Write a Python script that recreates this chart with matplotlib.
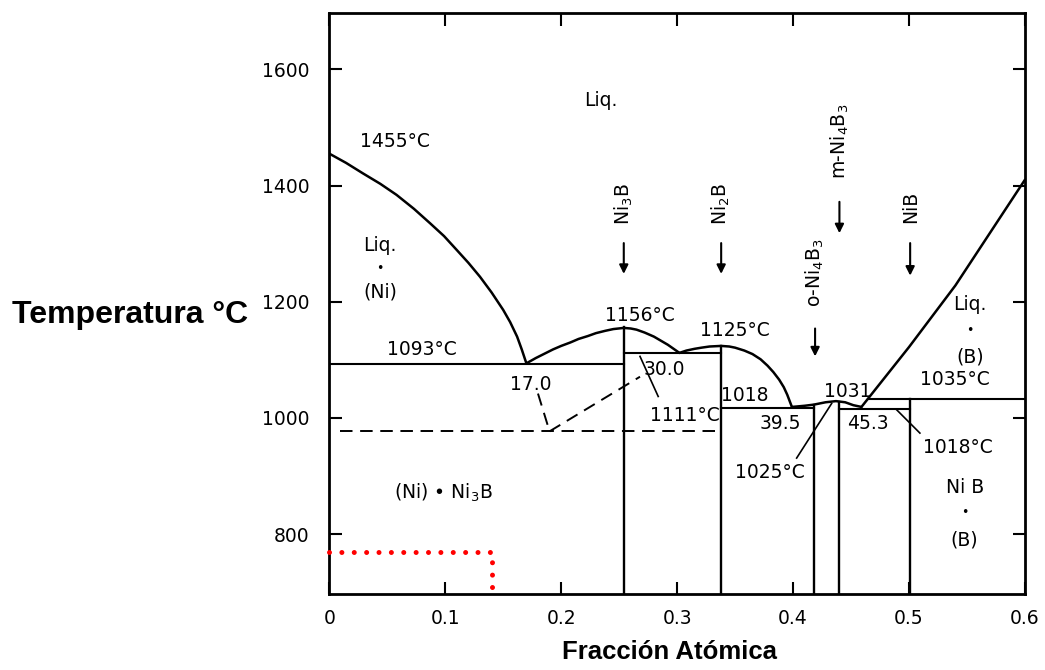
import matplotlib
matplotlib.use("Agg")
import matplotlib.pyplot as plt

plt.rcParams['font.family'] = ['DejaVu Sans']
plt.rcParams['lines.scale_dashes'] = False

# ---------------- data ----------------
# Ni-rich liquidus (x = atomic fraction B, T in deg C)
liq_ni_x = [0.000, 0.0145, 0.029, 0.044, 0.058, 0.073, 0.087, 0.099, 0.110,
            0.120, 0.130, 0.140, 0.150, 0.156, 0.162, 0.166, 0.170]
liq_ni_t = [1455, 1439, 1421, 1403, 1384, 1360, 1335, 1313, 1289,
            1267, 1243, 1216, 1186, 1165, 1140, 1118, 1094]

# Ni3B liquidus dome
ni3b_x = [0.170, 0.178, 0.185, 0.193, 0.200, 0.208, 0.215, 0.223, 0.230, 0.238,
          0.245, 0.254, 0.260, 0.265, 0.272, 0.280, 0.286, 0.292, 0.297, 0.302]
ni3b_t = [1094, 1103, 1110, 1118, 1124, 1130, 1136, 1141, 1146, 1150,
          1153, 1155, 1154, 1152, 1147, 1140, 1133, 1126, 1119, 1112]

# Ni2B liquidus dome
ni2b_x = [0.302, 0.308, 0.315, 0.321, 0.328, 0.338, 0.345, 0.350, 0.358, 0.365,
          0.372, 0.378, 0.383, 0.388, 0.392, 0.395, 0.399]
ni2b_t = [1112, 1116, 1119, 1121, 1123, 1124, 1123, 1121, 1116, 1110,
          1101, 1090, 1079, 1066, 1053, 1040, 1019]

# Ni4B3 small dome
ni4b3_x = [0.399, 0.410, 0.418, 0.428, 0.437, 0.445, 0.452, 0.459]
ni4b3_t = [1019, 1021, 1023, 1027, 1029, 1027, 1022, 1019]

# B-rich liquidus
liq_b_x = [0.459, 0.500, 0.540, 0.600]
liq_b_t = [1019, 1122, 1228, 1410]

# invariant (horizontal) lines: (x_start, x_end, T)
iso_x0 = [0.000, 0.254, 0.338, 0.440, 0.465]
iso_x1 = [0.254, 0.338, 0.418, 0.501, 0.600]
iso_t = [1093, 1111, 1018, 1016, 1033]

# compound lines: (x, T_top)
comp_x = [0.254, 0.338, 0.418, 0.440, 0.501]
comp_top = [1156, 1124, 1023, 1027, 1033]

# metastable (dashed) lines
dash_h_x = [0.009, 0.336]
dash_h_t = [977, 977]
dash_a_x = [0.180, 0.190]
dash_a_t = [1042, 977]
dash_b_x = [0.190, 0.268]
dash_b_t = [977, 1071]

# leader lines for labels
lead_1111_x = [0.268, 0.2837]
lead_1111_t = [1106, 1037]
lead_1025_x = [0.4031, 0.4333]
lead_1025_t = [931, 1025]
lead_1018_x = [0.4894, 0.5094]
lead_1018_t = [1014, 974]

# red dotted marker
red_x = [0.0, 0.1406, 0.1406]
red_t = [770, 770, 697]

# compound labels with arrows: label, x, text-centre T, arrow start T, arrow end T
phase_labels = ["Ni$_3$B", "Ni$_2$B", "o-Ni$_4$B$_3$", "m-Ni$_4$B$_3$", "NiB"]
phase_x = [0.254, 0.338, 0.419, 0.440, 0.501]
phase_txt_t = [1368, 1368, 1250, 1476, 1363]
phase_arr_t0 = [1301, 1301, 1154, 1372, 1301]
phase_arr_t1 = [1248, 1248, 1106, 1318, 1245]

# region / point labels
note_text = ["Liq.", "1455°C", "Liq.", "•", "(Ni)", "1093°C", "17.0", "1156°C",
             "1125°C", "30.0", "1111°C", "1018", "39.5", "1031", "45.3",
             "1035°C", "1018°C", "1025°C", "Liq.", "•", "(B)", "Ni B", "•", "(B)",
             "(Ni) • Ni$_3$B"]
note_x = [0.234, 0.057, 0.044, 0.044, 0.044, 0.080, 0.174, 0.268,
          0.350, 0.289, 0.307, 0.3585, 0.389, 0.4475, 0.4645,
          0.540, 0.542, 0.380, 0.5525, 0.5525, 0.5525, 0.548, 0.548, 0.548,
          0.098]
note_t = [1547, 1476, 1297, 1258, 1217, 1117, 1058, 1177,
          1150, 1084, 1005, 1038, 991, 1046, 991,
          1067, 950, 906, 1195, 1150, 1105, 880, 837, 790,
          871]

xticks = [0, 0.1, 0.2, 0.3, 0.4, 0.5, 0.6]
xtick_labels = ["0", "0.1", "0.2", "0.3", "0.4", "0.5", "0.6"]
yticks = [800, 1000, 1200, 1400, 1600]
ytick_labels = ["800", "1000", "1200", "1400", "1600"]

# ---------------- figure ----------------
fig = plt.figure(figsize=(10.45, 6.70), dpi=100)
ax = fig.add_axes([0.3151, 0.1134, 0.6657, 0.8672])
ax.set_xlim(0, 0.6)
ax.set_ylim(697, 1697)

lw = 1.8
for xs, ts in [(liq_ni_x, liq_ni_t), (ni3b_x, ni3b_t), (ni2b_x, ni2b_t),
               (ni4b3_x, ni4b3_t), (liq_b_x, liq_b_t)]:
    ax.plot(xs, ts, color='k', lw=lw, solid_capstyle='round', solid_joinstyle='round')

for x0, x1, t in zip(iso_x0, iso_x1, iso_t):
    ax.plot([x0, x1], [t, t], color='k', lw=1.5)

for x, top in zip(comp_x, comp_top):
    ax.plot([x, x], [697, top], color='k', lw=1.7)

dash = (0, (9, 5.5))
for xs, ts in [(dash_h_x, dash_h_t), (dash_a_x, dash_a_t), (dash_b_x, dash_b_t)]:
    ax.plot(xs, ts, color='k', lw=1.4, linestyle=dash)

for xs, ts in [(lead_1111_x, lead_1111_t), (lead_1025_x, lead_1025_t), (lead_1018_x, lead_1018_t)]:
    ax.plot(xs, ts, color='k', lw=1.2)

ax.plot(red_x, red_t, color='#ff0000', lw=3.6, linestyle=(0, (0.01, 8.9)),
        dash_capstyle='round', clip_on=False, zorder=5)

for lab, x, tt, t0, t1 in zip(phase_labels, phase_x, phase_txt_t, phase_arr_t0, phase_arr_t1):
    ax.text(x, tt, lab, rotation=90, ha='center', va='center', fontsize=13.5)
    ax.annotate('', xy=(x, t1), xytext=(x, t0),
                arrowprops=dict(arrowstyle='-|>', color='k', lw=1.5, mutation_scale=13,
                                shrinkA=0, shrinkB=0))

for s, x, t in zip(note_text, note_x, note_t):
    fs = 9 if s == "•" else 13.5
    ax.text(x, t, s, ha='center', va='center', fontsize=fs, color='k')

ax.set_xticks(xticks)
ax.set_xticklabels(xtick_labels)
ax.set_yticks(yticks)
ax.set_yticklabels(ytick_labels)
ax.tick_params(direction='in', length=9, width=1.5, top=True, right=True,
               labelsize=13.5)
ax.tick_params(axis='y', pad=14)
ax.tick_params(axis='x', pad=11)
for sp in ax.spines.values():
    sp.set_linewidth(2.0)

fig.text(130.5 / 1045, 1 - 315 / 670, "Temperatura °C", ha='center', va='center',
         fontsize=23, fontweight='bold', family='Liberation Sans')
fig.text(670 / 1045, 1 - 652 / 670, "Fracción Atómica", ha='center', va='center',
         fontsize=18.5, fontweight='bold', family='Liberation Sans')

fig.savefig("out.png", dpi=100)
